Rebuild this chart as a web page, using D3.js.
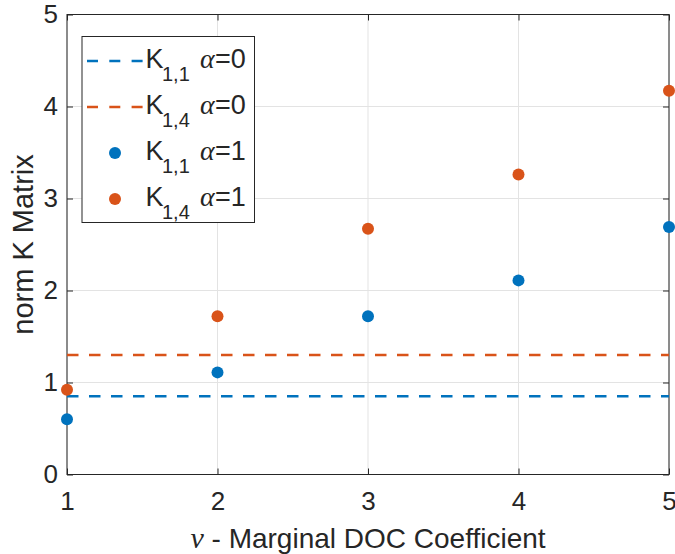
<!DOCTYPE html>
<html>
<head>
<meta charset="utf-8">
<script src="https://cdn.jsdelivr.net/npm/d3@7"></script>
<style>
  body { margin: 0; background: #fff; }
  svg { display: block; }
  text { font-family: "Liberation Sans", Arial, Helvetica, sans-serif; fill: #262626; }
  .math { font-family: "Liberation Serif", "DejaVu Serif", serif; font-style: italic; }
</style>
</head>
<body>
<svg id="chart" width="675" height="554"></svg>
<script>
// Marginal DOC coefficient values
const nu = [1, 2, 3, 4, 5];
// Norm of K matrix entries with alpha = 1
const k11Alpha1 = [0.60, 1.11, 1.72, 2.11, 2.69];
const k14Alpha1 = [0.92, 1.72, 2.67, 3.26, 4.17];
// Constant reference levels with alpha = 0
const k11Alpha0 = 0.85;
const k14Alpha0 = 1.30;
const xTicks = [1, 2, 3, 4, 5];
const yTicks = [0, 1, 2, 3, 4, 5];

const blue = "#0072BD", orange = "#D95319", axisColor = "#262626";
const margin = { left: 67, right: 6, top: 14.5, bottom: 79.5 };
const W = 675, H = 554;
const svg = d3.select("#chart");

const x = d3.scaleLinear().domain([1, 5]).range([margin.left, W - margin.right]);
const y = d3.scaleLinear().domain([0, 5]).range([H - margin.bottom, margin.top]);
const [x0, x1] = x.range(), [y0, y1] = y.range();

// grid
const grid = svg.append("g");
grid.selectAll(".gx").data(xTicks).join("line")
  .attr("x1", d => x(d)).attr("x2", d => x(d)).attr("y1", y0).attr("y2", y1)
  .attr("stroke", "#e3e3e3").attr("stroke-width", 1);
grid.selectAll(".gy").data(yTicks).join("line")
  .attr("y1", d => y(d)).attr("y2", d => y(d)).attr("x1", x0).attr("x2", x1)
  .attr("stroke", "#e3e3e3").attr("stroke-width", 1);

// axes (ticks drawn inward, box on)
function styleAxis(g) {
  g.attr("font-size", 26).attr("font-family", '"Liberation Sans", Arial, sans-serif');
  g.select(".domain").remove();
  g.selectAll(".tick line").attr("stroke", axisColor).attr("stroke-width", 1);
  g.selectAll(".tick text").attr("fill", axisColor);
}
svg.append("g").attr("transform", `translate(0,${y0})`)
  .call(d3.axisBottom(x).tickValues(xTicks).tickFormat(d3.format("d")).tickSizeInner(-6).tickSizeOuter(0).tickPadding(17))
  .call(styleAxis);
svg.append("g").attr("transform", `translate(0,${y1})`)
  .call(d3.axisTop(x).tickValues(xTicks).tickFormat("").tickSizeInner(-6).tickSizeOuter(0))
  .call(styleAxis);
svg.append("g").attr("transform", `translate(${x0},0)`)
  .call(d3.axisLeft(y).tickValues(yTicks).tickFormat(d3.format("d")).tickSizeInner(-6).tickSizeOuter(0).tickPadding(9))
  .call(styleAxis);
svg.append("g").attr("transform", `translate(${x1},0)`)
  .call(d3.axisRight(y).tickValues(yTicks).tickFormat("").tickSizeInner(-6).tickSizeOuter(0))
  .call(styleAxis);

// box
svg.append("rect").attr("x", x0).attr("y", y1).attr("width", x1 - x0).attr("height", y0 - y1)
  .attr("fill", "none").attr("stroke", axisColor).attr("stroke-width", 1);

// dashed reference lines
const dash = "11.5,10.5";
[[k11Alpha0, blue], [k14Alpha0, orange]].forEach(([v, c]) => {
  svg.append("line").attr("x1", x0).attr("x2", x1).attr("y1", y(v)).attr("y2", y(v))
    .attr("stroke", c).attr("stroke-width", 2.5).attr("stroke-dasharray", dash);
});

// scatter points
const pts = svg.append("g");
pts.selectAll(".b").data(nu).join("circle")
  .attr("cx", d => x(d)).attr("cy", (d, i) => y(k11Alpha1[i])).attr("r", 6).attr("fill", blue);
pts.selectAll(".o").data(nu).join("circle")
  .attr("cx", d => x(d)).attr("cy", (d, i) => y(k14Alpha1[i])).attr("r", 6).attr("fill", orange);

// axis labels
svg.append("text").attr("transform", `translate(32.5,${(y0 + y1) / 2}) rotate(-90)`)
  .attr("text-anchor", "middle").attr("font-size", 29).text("norm K Matrix");
const xl = svg.append("text").attr("x", (x0 + x1) / 2).attr("y", 548)
  .attr("text-anchor", "middle").attr("font-size", 28);
xl.append("tspan").attr("class", "math").attr("font-size", 30).text("ν");
xl.append("tspan").text(" - Marginal DOC Coefficient");

// legend
const lg = svg.append("g");
lg.append("rect").attr("x", 82).attr("y", 36.5).attr("width", 172.5).attr("height", 186)
  .attr("fill", "#fff").attr("stroke", axisColor).attr("stroke-width", 1);
const entries = [
  { sub: "1,1", a: "0", color: blue, type: "line" },
  { sub: "1,4", a: "0", color: orange, type: "line" },
  { sub: "1,1", a: "1", color: blue, type: "dot" },
  { sub: "1,4", a: "1", color: orange, type: "dot" }
];
entries.forEach((e, i) => {
  const cy = 61 + i * 46;
  if (e.type === "line") {
    lg.append("line").attr("x1", 87).attr("x2", 143.5).attr("y1", cy).attr("y2", cy)
      .attr("stroke", e.color).attr("stroke-width", 2.5).attr("stroke-dasharray", "11,11.3");
  } else {
    lg.append("circle").attr("cx", 115).attr("cy", cy).attr("r", 6).attr("fill", e.color);
  }
  const base = cy + 6.5;
  lg.append("text").attr("x", 145.5).attr("y", base).attr("font-size", 27).text("K");
  lg.append("text").attr("x", 162).attr("y", base + 13.5).attr("font-size", 20).text(e.sub);
  lg.append("text").attr("class", "math").attr("x", 200).attr("y", base).attr("font-size", 28).text("α");
  lg.append("text").attr("x", 215).attr("y", base).attr("font-size", 27).text("=" + e.a);
});
</script>
</body>
</html>
